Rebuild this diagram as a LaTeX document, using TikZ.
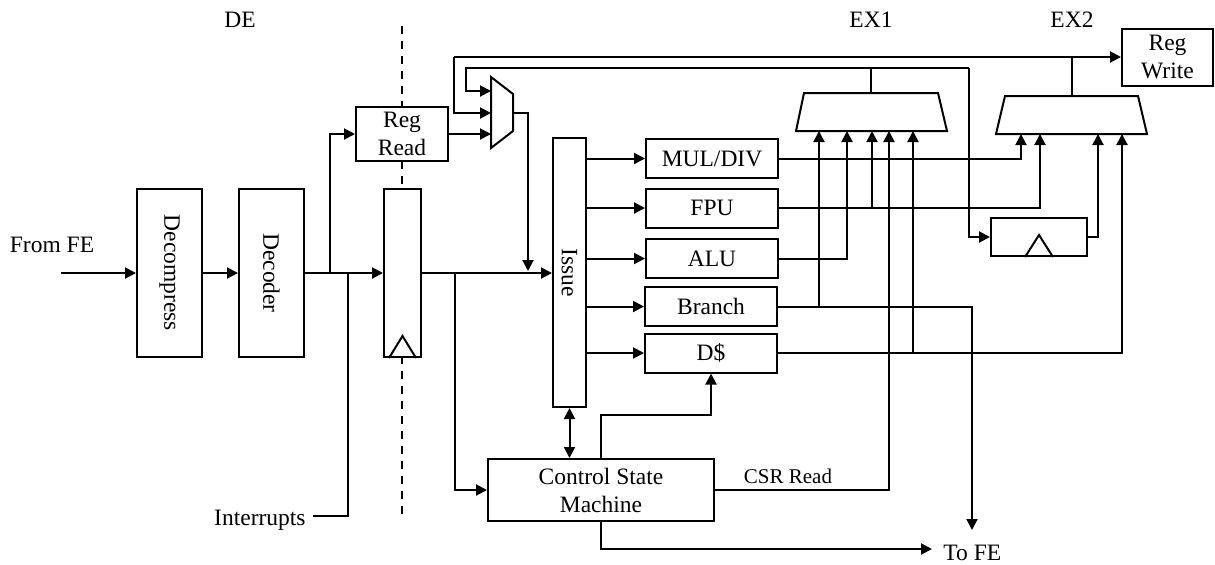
\documentclass[tikz,border=0pt]{standalone}
\usepackage{fontspec}
\setmainfont{Liberation Serif}
\usepackage{graphicx}
\usetikzlibrary{arrows.meta}
\begin{document}
\begin{tikzpicture}[x=0.5pt,y=-0.5pt,
  font=\fontsize{11.75}{14}\selectfont,
  ln/.style={line width=1pt},
  arr/.style={ln,-{Triangle[length=5.5pt,width=5.5pt]}},
  darr/.style={ln,{Triangle[length=5.5pt,width=5.5pt]}-{Triangle[length=5.5pt,width=5.5pt]}},
  blk/.style={draw,ln,fill=white,inner sep=0pt,align=center},
  unit/.style={blk,minimum width=66pt,minimum height=19.5pt},
  lbl/.style={inner sep=0pt},
  stagesep/.style={line width=1pt,dash pattern=on 4pt off 3.5pt},
]
\useasboundingbox (0,0) rectangle (1215,564);

% stage separator (behind blocks)
\coordinate (sepT) at (402,26);
\coordinate (sepB) at (402,519);
\draw[stagesep] (sepT) -- (sepB);

% stage labels
\node[lbl] (de) at (240,20) {DE};
\node[lbl] (ex1) at (871,20) {EX1};
\node[lbl] (ex2) at (1072,20) {EX2};

% blocks
\node[blk,minimum width=32.5pt,minimum height=84pt] (decomp) at (169.5,273) {\rotatebox{-90}{Decompress}};
\node[blk,minimum width=32.5pt,minimum height=84pt] (decoder) at (271.5,273) {\rotatebox{-90}{Decoder}};
\node[blk,minimum width=18.5pt,minimum height=84pt] (preg) at (402.5,273) {};
\draw[ln] (preg.south) ++(-13.5,0) -- ++(13.5,-22) -- ++(13.5,22);
\node[blk,minimum width=46pt,minimum height=27pt] (regread) at (402,134) {Reg\\Read};
\node[blk,minimum width=16.5pt,minimum height=134.5pt] (issue) at (569.5,272.5) {\rotatebox{-90}{Issue}};
\node[unit] (mul) at (712,158.5) {MUL/DIV};
\node[unit] (fpu) at (712,208) {FPU};
\node[unit] (alu) at (712,258.5) {ALU};
\node[unit] (br) at (711,306.5) {Branch};
\node[unit] (dc) at (711,353) {D\$};
\node[blk,minimum width=113pt,minimum height=31pt] (csm) at (601,490) {Control State\\Machine};
\node[blk,minimum width=45.5pt,minimum height=28.5pt] (regwrite) at (1167.5,57) {Reg\\Write};
\node[blk,minimum width=48pt,minimum height=19pt] (reg2) at (1039,237) {};
\draw[ln] (reg2.south) ++(-14,0) -- ++(14,-22) -- ++(14,22);

% operand mux
\draw[ln,fill=white] (491,77) -- (513,94) -- (513,131) -- (491,148) -- cycle;
\coordinate (m1a) at (491,91);
\coordinate (m1b) at (491,113);
\coordinate (m1c) at (491,134);
\coordinate (m1o) at (513,113);

% EX1 result mux
\draw[ln,fill=white] (804,93) -- (938,93) -- (947,131) -- (796,131) -- cycle;
\coordinate (ex1out) at (871,93);
% EX2 result mux
\draw[ln,fill=white] (1005,96) -- (1138,96) -- (1147,134) -- (996,134) -- cycle;
\coordinate (ex2out) at (1072,96);

% front end
\node[lbl] (fromfe) at (52,245) {From FE};
\coordinate (fe) at (61,273);
\draw[arr] (fe) -- (decomp.west);
\draw[arr] (decomp.east) -- (decoder.east -| decoder.west);
\draw[arr] (decoder.east) -- (preg.west);
\coordinate (j1) at (330,273);
\draw[arr] (j1) |- (regread.west);

% interrupts
\node[lbl,anchor=east] (intr) at (306,520) {Interrupts};
\coordinate (ia) at (313,516);
\coordinate (ib) at (348,273);
\draw[ln] (ia) -| (ib);

% to issue and CSM
\draw[arr] (preg.east) -- (issue.west |- preg.east);
\coordinate (j2) at (455,273);
\draw[arr] (j2) |- (csm.west);
\draw[arr] (regread.east) -- (m1c);
\coordinate (mo) at (528,271);
\draw[arr] (m1o) -| (mo);

% bypass / writeback lines
\coordinate (wb) at (1072,57);
\coordinate (wl) at (454,57);
\draw[ln] (ex2out) -- (wb);
\draw[arr] (wl) -- (regwrite.west);
\draw[arr] (wl) |- (m1b);
\coordinate (b1) at (969,68);
\coordinate (b0) at (466,68);
\draw[ln] (ex1out) -- (871,68);
\draw[arr] (b1) -- (b0) |- (m1a);
\draw[arr] (b1) |- (reg2.west);

% issue to units
\foreach \u in {mul,fpu,alu,br,dc}
  \draw[arr] (issue.east |- \u.west) -- (\u.west);

% unit results
\draw[arr] (mul.east) -| (1021,134);
\draw[arr] (fpu.east) -| (1040,134);
\draw[arr] (872,208) -- (872,131);
\draw[arr] (alu.east) -| (847,131);
\draw[arr] (br.east) -| (972,530);
\draw[arr] (819,306.5) -- (819,131);
\draw[arr] (dc.east) -| (1122,134);
\draw[arr] (913,353) -- (913,131);
\draw[arr] (reg2.east) -| (1098,134);

% CSM
\draw[arr] (csm.east) -| (889,131);
\node[lbl,font=\fontsize{10.5}{12}\selectfont] (csrr) at (788,476) {CSR Read};
\draw[arr] (csm.north) -- ++(0,-43) -| (dc.south);
\draw[darr] (issue.south) -- (issue.south |- csm.north);
\node[lbl,anchor=west] (tofe) at (943,553) {To FE};
\coordinate (tf) at (932,549);
\draw[arr] (csm.south) |- (tf);
\end{tikzpicture}
\end{document}
